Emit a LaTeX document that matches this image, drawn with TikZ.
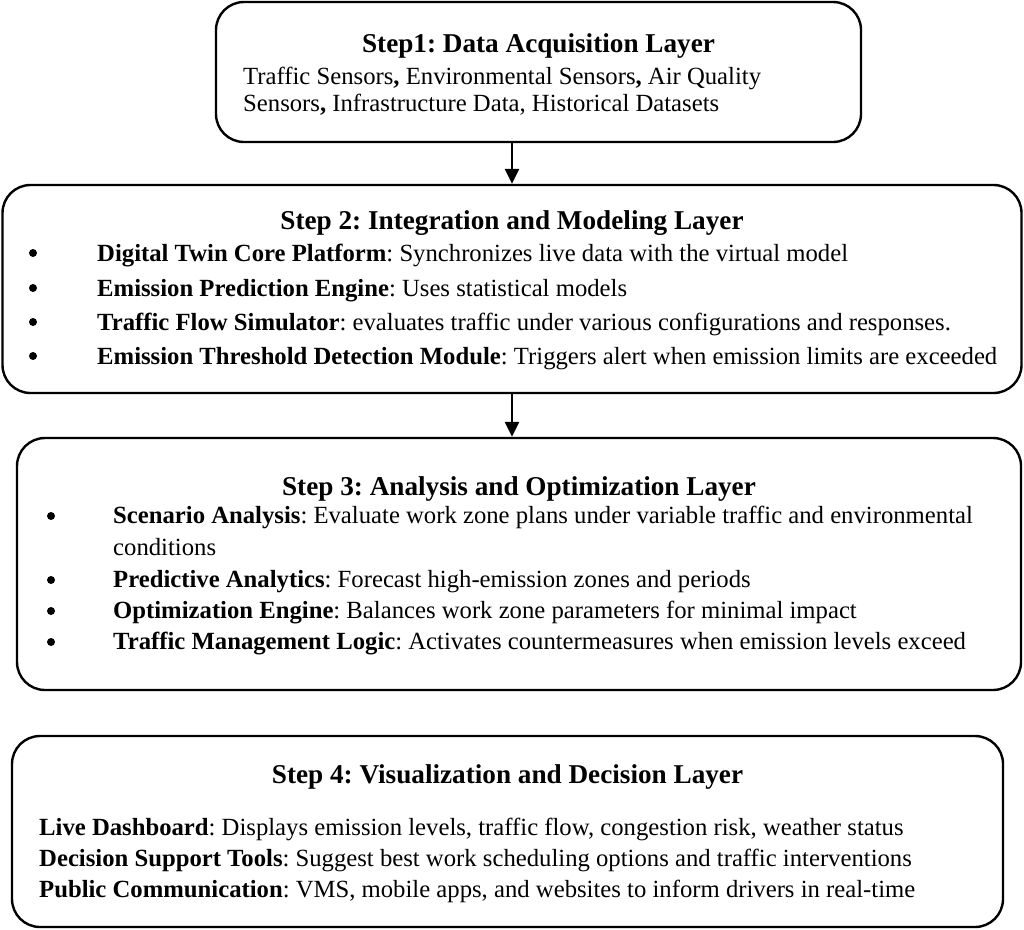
\documentclass[tikz,border=0pt]{standalone}
\usepackage{fontspec}
\setmainfont{Liberation Serif}
\usetikzlibrary{arrows.meta}
\frenchspacing

\begin{document}
\begin{tikzpicture}[x=1pt,y=-1pt,
    layer/.style={draw=black, line width=2.4pt, rounded corners=28pt, inner sep=0pt},
    head/.style={font=\fontsize{27.2}{30}\selectfont\bfseries, anchor=base, inner sep=0pt},
    item/.style={font=\fontsize{24.7}{28}\selectfont, anchor=base west, inner sep=0pt},
    dot/.style={circle, fill=black, inner sep=0pt, minimum size=8pt},
    flow/.style={line width=2.6pt, -{Triangle[width=14pt,length=15pt]}}]
  \useasboundingbox (0,0) rectangle (1024,929);

  % the four layers
  \node[layer, minimum width=645pt, minimum height=140pt] (s1) at (538.5,72) {};
  \node[layer, minimum width=1019pt, minimum height=208pt] (s2) at (512,289) {};
  \node[layer, minimum width=1004pt, minimum height=252pt] (s3) at (519,564) {};
  \node[layer, minimum width=991pt, minimum height=191pt] (s4) at (507.5,831.5) {};

  % step 1
  \node[head] (t1) at (538.5,52) {Step1: Data Acquisition Layer};
  \node[item] (l1a) at (243,84) {Traffic Sensors\textbf{,} Environmental Sensors\textbf{,} Air Quality};
  \node[item] (l1b) at (243,111) {Sensors\textbf{,} Infrastructure Data, Historical Datasets};

  % step 2
  \node[head] (t2) at (512,229) {Step 2: Integration and Modeling Layer};
  \node[item] (l2a) at (97,261) {\textbf{Digital Twin Core Platform}: Synchronizes live data with the virtual model};
  \node[item] (l2b) at (97,296) {\textbf{Emission Prediction Engine}: Uses statistical models};
  \node[item] (l2c) at (97,330) {\textbf{Traffic Flow Simulator}: evaluates traffic under various configurations and responses.};
  \node[item] (l2d) at (97,364) {\textbf{Emission Threshold Detection Module}: Triggers alert when emission limits are exceeded};
  \foreach \y/\n in {253/a,288/b,322/c,356/d}
    \node[dot] (d2\n) at (33,\y) {};

  % step 3
  \node[head] (t3) at (519,495) {Step 3: Analysis and Optimization Layer};
  \node[item] (l3a) at (113,523) {\textbf{Scenario Analysis}: Evaluate work zone plans under variable traffic and environmental};
  \node[item] (l3b) at (113,555) {conditions};
  \node[item] (l3c) at (113,587) {\textbf{Predictive Analytics}: Forecast high-emission zones and periods};
  \node[item] (l3d) at (113,618) {\textbf{Optimization Engine}: Balances work zone parameters for minimal impact};
  \node[item] (l3e) at (113,649) {\textbf{Traffic Management Logic}: Activates countermeasures when emission levels exceed};
  \foreach \y/\n in {516/a,580/c,611/d,642/e}
    \node[dot] (d3\n) at (51,\y) {};

  % step 4
  \node[head] (t4) at (507.5,783) {Step 4: Visualization and Decision Layer};
  \node[item] (l4a) at (39,835) {\textbf{Live Dashboard}: Displays emission levels, traffic flow, congestion risk, weather status};
  \node[item] (l4b) at (39,866) {\textbf{Decision Support Tools}: Suggest best work scheduling options and traffic interventions};
  \node[item] (l4c) at (39,897) {\textbf{Public Communication}: VMS, mobile apps, and websites to inform drivers in real-time};

  % arrows
  \draw[flow] (s1.south -| s2.north) -- (s2.north);
  \draw[flow] (s2.south) -- (s3.north -| s2.south);
\end{tikzpicture}
\end{document}
